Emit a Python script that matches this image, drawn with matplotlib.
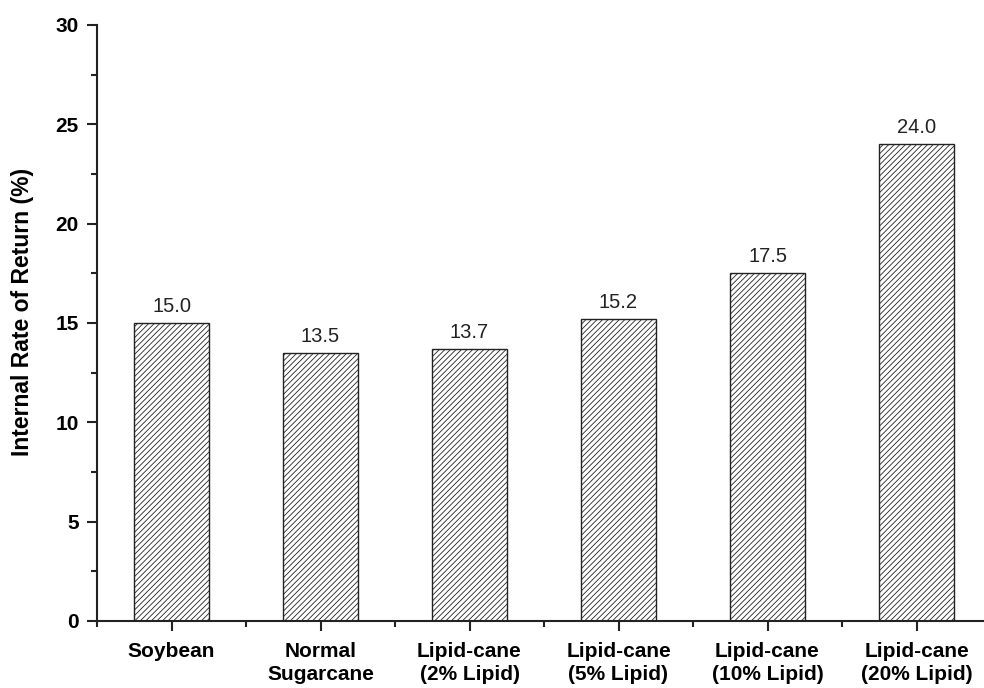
import numpy as np
import matplotlib.pyplot as plt
from matplotlib.ticker import MultipleLocator

plt.rcParams['font.family'] = ['Liberation Sans', 'DejaVu Sans']
plt.rcParams['hatch.linewidth'] = 0.6

# data
categories = ['Soybean', 'Normal\nSugarcane', 'Lipid-cane\n(2% Lipid)',
              'Lipid-cane\n(5% Lipid)', 'Lipid-cane\n(10% Lipid)', 'Lipid-cane\n(20% Lipid)']
irr = [15.0, 13.5, 13.7, 15.2, 17.5, 24.0]

fig = plt.figure(figsize=(9.84, 6.88), dpi=100)
ax = fig.add_axes([97 / 984, 1 - 621 / 688, 894 / 984, 596 / 688])

x = np.arange(len(categories))
bars = ax.bar(x, irr, width=0.5, color='white', edgecolor='#222222',
              linewidth=1.0, hatch='//////')

for xi, v in zip(x, irr):
    ax.text(xi, v + 0.35, f'{v:.1f}', ha='center', va='bottom', fontsize=14.5, color='#222222')

ax.set_xlim(-0.5, 5.5)
ax.set_ylim(0, 30)
ax.set_xticks(x)
ax.set_xticklabels(categories, fontsize=15.5, fontweight='bold', linespacing=1.25)
ax.xaxis.set_minor_locator(MultipleLocator(1, offset=0.5))
ax.yaxis.set_major_locator(MultipleLocator(5))
ax.yaxis.set_minor_locator(MultipleLocator(2.5))
ax.tick_params(axis='both', which='major', direction='out', length=7, width=1.5,
               labelsize=15, color='#222222')
ax.tick_params(axis='both', which='minor', direction='out', length=4, width=1.5, color='#222222')
ax.tick_params(axis='x', pad=8)
ax.tick_params(axis='y', pad=6)
for lbl in ax.get_yticklabels():
    lbl.set_fontweight('bold')
ax.set_ylabel('Internal Rate of Return (%)', fontsize=16.5, fontweight='bold')
ax.yaxis.set_label_coords(-0.071, 0.518)

for side in ['top', 'right']:
    ax.spines[side].set_visible(False)
for side in ['left', 'bottom']:
    ax.spines[side].set_linewidth(1.5)
    ax.spines[side].set_color('#222222')

fig.savefig('out.png', dpi=100)
